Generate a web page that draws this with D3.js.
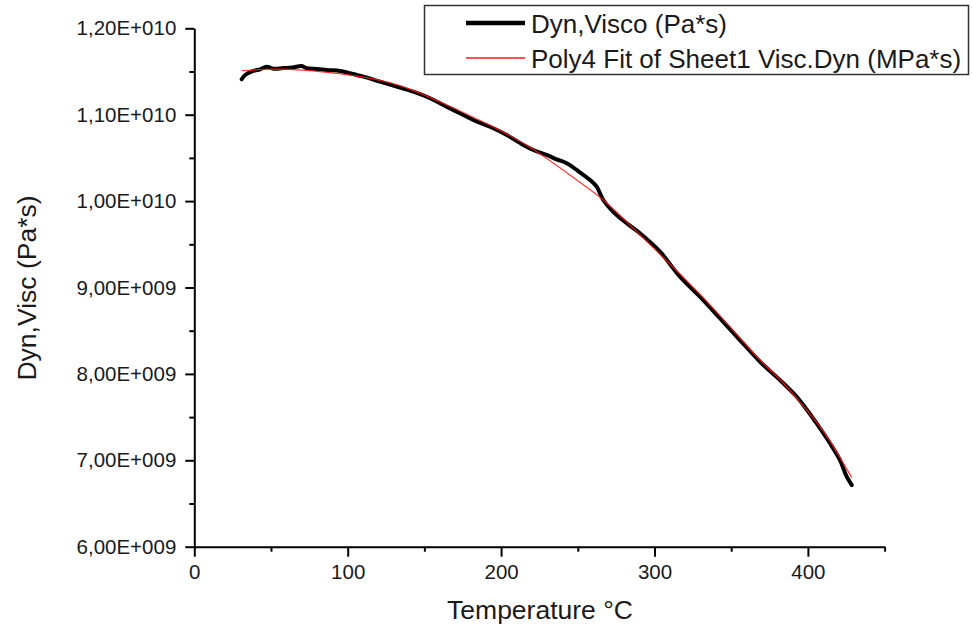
<!DOCTYPE html>
<html lang="en">
<head>
<meta charset="UTF-8">
<title>Dyn, Visc vs Temperature</title>
<style>
    body { margin: 0; background: #fff; }
    svg { display: block; font-family: "Liberation Sans", Arial, sans-serif; }
    .axis path, .axis line { stroke: #000; stroke-width: 2px; }
    .axis text { font-size: 20.5px; fill: #1a1a1a; }
    .title { font-size: 26.5px; fill: #1a1a1a; }
    .legend text { font-size: 26px; fill: #1a1a1a; }
</style>
</head>
<body>
<svg id="chart" width="973" height="630"></svg>
<script src="https://d3js.org/d3.v7.min.js"></script>
<script>
// measured curve (Pa*s) vs temperature (°C)
const measTemp = [30.9, 33.1, 38.5, 43.0, 47.2, 51.5, 58.0, 64.0, 70.0, 73.3, 80.0, 86.3, 95.0, 101.5,
    110.2, 121.1, 131.9, 142.8, 153.7, 164.5, 173.2, 181.9, 192.8, 203.7, 214.5, 221.0, 229.7,
    236.2, 242.8, 249.3, 258.0, 262.3, 266.6, 273.1, 281.9, 290.5, 303.6, 316.6, 329.6, 342.7,
    355.7, 368.8, 381.8, 392.7, 397.0, 405.7, 414.4, 420.9, 425.3, 428.6];
const measVisc = [1.1410e10, 1.1459e10, 1.1506e10, 1.1525e10, 1.1556e10, 1.1532e10, 1.1540e10, 1.1545e10,
    1.1564e10, 1.1537e10, 1.1530e10, 1.1517e10, 1.1506e10, 1.1479e10, 1.1440e10, 1.1382e10,
    1.1324e10, 1.1266e10, 1.1190e10, 1.1093e10, 1.1016e10, 1.0939e10, 1.0861e10, 1.0765e10,
    1.0649e10, 1.0591e10, 1.0534e10, 1.0484e10, 1.0438e10, 1.0360e10, 1.0244e10, 1.0167e10,
    1.0013e10, 9.877e9, 9.743e9, 9.627e9, 9.414e9, 9.125e9, 8.894e9, 8.644e9, 8.392e9,
    8.141e9, 7.929e9, 7.736e9, 7.640e9, 7.428e9, 7.197e9, 7.003e9, 6.810e9, 6.714e9];

// Poly4 fit
const fitTemp = [30.9, 47.2, 70.0, 101.5, 134.1, 173.2, 214.5, 249.3, 266.6, 286.2, 316.6, 342.7, 368.8,
    381.8, 395.0, 405.7, 414.4, 428.6];
const fitVisc = [1.1509e10, 1.1525e10, 1.1517e10, 1.1459e10, 1.1336e10, 1.1043e10, 1.0669e10, 1.0244e10,
    1.0013e10, 9.685e9, 9.156e9, 8.672e9, 8.161e9, 7.935e9, 7.670e9, 7.440e9, 7.222e9, 6.800e9];

const xTicks = [0, 100, 200, 300, 400];
const xMinorTicks = [50, 150, 250, 350, 450];
const yTicks = [6e9, 7e9, 8e9, 9e9, 1e10, 1.1e10, 1.2e10];
const yTickLabels = ["6,00E+009", "7,00E+009", "8,00E+009", "9,00E+009", "1,00E+010", "1,10E+010", "1,20E+010"];
const yMinorTicks = [6.5e9, 7.5e9, 8.5e9, 9.5e9, 1.05e10, 1.15e10];

const seriesNames = ["Dyn,Visco (Pa*s)", "Poly4 Fit of Sheet1 Visc.Dyn (MPa*s)"];

const svg = d3.select("#chart");
const x = d3.scaleLinear().domain([0, 450]).range([194.3, 884.6]);
const y = d3.scaleLinear().domain([6e9, 1.2e10]).range([546.7, 28.3]);

// axes
svg.append("g")
    .attr("class", "axis")
    .attr("transform", `translate(0,${y(6e9)})`)
    .call(d3.axisBottom(x).tickValues(xTicks).tickSize(10).tickSizeOuter(0).tickPadding(8).tickFormat(d3.format("d")));
svg.append("g")
    .attr("class", "axis")
    .attr("transform", `translate(0,${y(6e9)})`)
    .call(d3.axisBottom(x).tickValues(xMinorTicks).tickSize(5).tickFormat(""))
    .call(g => g.select(".domain").remove());

svg.append("g")
    .attr("class", "axis")
    .attr("transform", `translate(${x(0)},0)`)
    .call(d3.axisLeft(y).tickValues(yTicks).tickSize(9).tickSizeOuter(0).tickPadding(9)
        .tickFormat((d, i) => yTickLabels[i]));
svg.append("g")
    .attr("class", "axis")
    .attr("transform", `translate(${x(0)},0)`)
    .call(d3.axisLeft(y).tickValues(yMinorTicks).tickSize(5).tickFormat(""))
    .call(g => g.select(".domain").remove());

// axis titles
svg.append("text")
    .attr("class", "title")
    .attr("x", 540)
    .attr("y", 619)
    .attr("text-anchor", "middle")
    .text("Temperature °C");

svg.append("text")
    .attr("class", "title")
    .attr("transform", "translate(36,288) rotate(-90)")
    .attr("text-anchor", "middle")
    .text("Dyn,Visc (Pa*s)");

// lines
const measLine = d3.line()
    .x((d, i) => x(measTemp[i]))
    .y(d => y(d))
    .curve(d3.curveCatmullRom);

const fitLine = d3.line()
    .x((d, i) => x(fitTemp[i]))
    .y(d => y(d))
    .curve(d3.curveNatural);

svg.append("path")
    .datum(measVisc)
    .attr("fill", "none")
    .attr("stroke", "#000")
    .attr("stroke-width", 4)
    .attr("stroke-linejoin", "round")
    .attr("stroke-linecap", "round")
    .attr("d", measLine);

svg.append("path")
    .datum(fitVisc)
    .attr("fill", "none")
    .attr("stroke", "#ff1a1a")
    .attr("stroke-opacity", 0.85)
    .attr("stroke-width", 1.3)
    .attr("d", fitLine);

// legend
const legend = svg.append("g").attr("class", "legend");
legend.append("rect")
    .attr("x", 424.5)
    .attr("y", 5.5)
    .attr("width", 544)
    .attr("height", 69)
    .attr("fill", "#fff")
    .attr("stroke", "#333")
    .attr("stroke-width", 1.5);

const legendRows = [
    {name: seriesNames[0], color: "#000", width: 4.5, ly: 23},
    {name: seriesNames[1], color: "#ff1a1a", width: 1.3, ly: 58}
];
legendRows.forEach(r => {
    legend.append("line")
        .attr("x1", 466).attr("x2", 525)
        .attr("y1", r.ly).attr("y2", r.ly)
        .attr("stroke", r.color)
        .attr("stroke-width", r.width);
    legend.append("text")
        .attr("x", 531)
        .attr("y", r.ly + 9.5)
        .text(r.name);
});
</script>
</body>
</html>
